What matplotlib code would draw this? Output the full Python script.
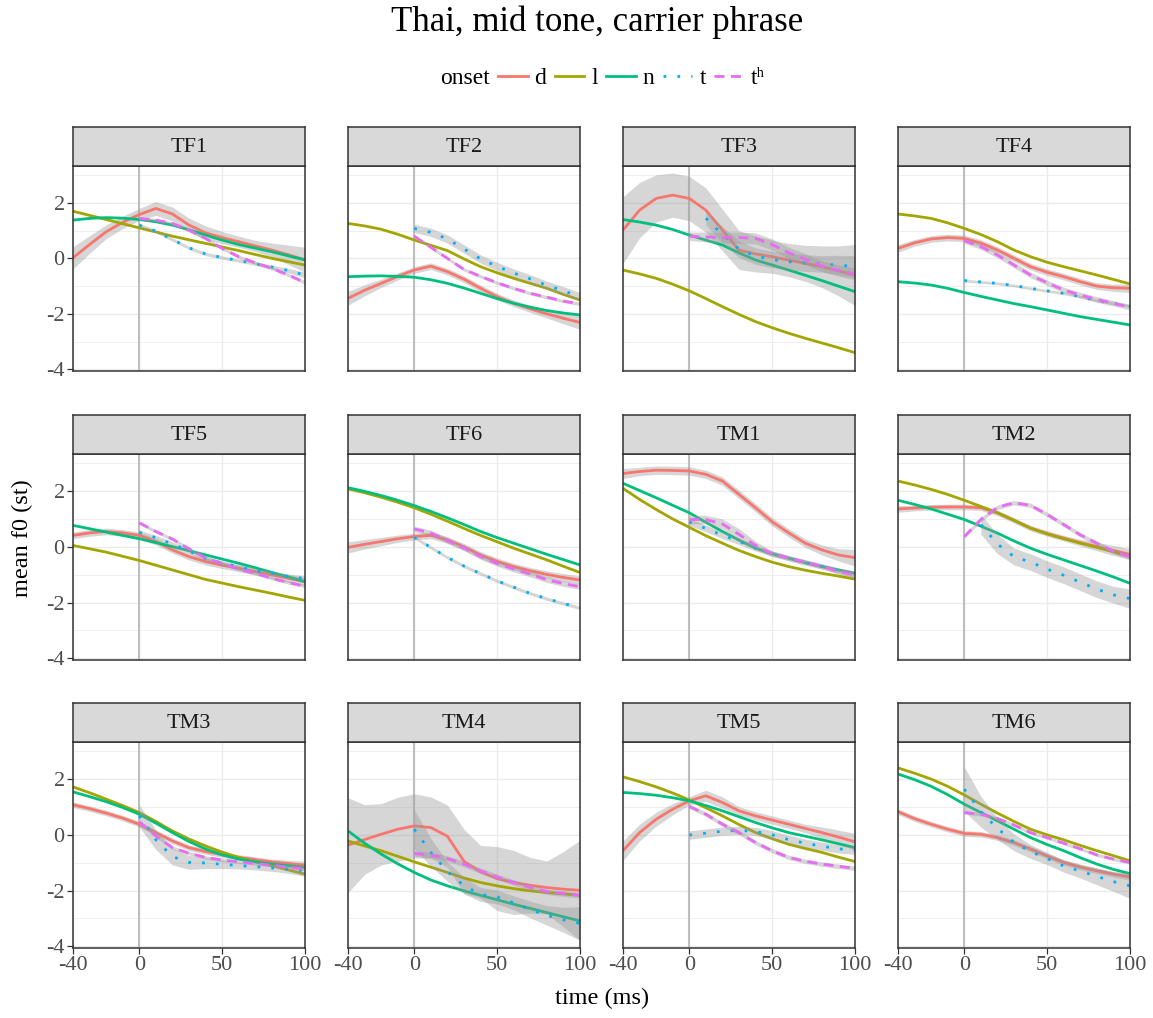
import numpy as np
import matplotlib
matplotlib.use("Agg")
import matplotlib.pyplot as plt
from matplotlib.lines import Line2D

plt.rcParams['font.family'] = ['Liberation Serif', 'DejaVu Serif']
plt.rcParams['axes.unicode_minus'] = False

# ---------------- data ----------------
X_ALL = [-40, -30, -20, -10, 0, 10, 20, 30, 40, 50, 60, 70, 80, 90, 100]
X_POST = [0, 10, 20, 30, 40, 50, 60, 70, 80, 90, 100]
NAN = float('nan')

PANELS = ["TF1", "TF2", "TF3", "TF4", "TF5", "TF6",
          "TM1", "TM2", "TM3", "TM4", "TM5", "TM6"]
ONSETS = ["d", "l", "n", "t", "tʰ"]
COLORS = ["#F8766D", "#A3A500", "#00BF7D", "#00B0F6", "#E76BF3"]

TF1 = {
    "d": [0.02, 0.5, 0.96, 1.3, 1.58, 1.8, 1.6, 1.2, 0.92, 0.75, 0.6, 0.45, 0.3, 0.13, -0.05],
    "l": [1.7, 1.55, 1.4, 1.25, 1.1, 0.95, 0.8, 0.67, 0.54, 0.41, 0.28, 0.14, 0.0, -0.12, -0.24],
    "n": [1.38, 1.44, 1.47, 1.45, 1.4, 1.32, 1.2, 1.03, 0.84, 0.66, 0.5, 0.37, 0.24, 0.09, -0.06],
    "t": [1.2, 0.98, 0.68, 0.38, 0.16, 0.03, -0.08, -0.19, -0.31, -0.44, -0.6],
    "tʰ": [1.44, 1.38, 1.26, 1.02, 0.72, 0.36, 0.06, -0.16, -0.36, -0.6, -0.87],
}
TF1_SE = {
    "d": [0.4, 0.32, 0.25, 0.22, 0.22, 0.25, 0.25, 0.25, 0.25, 0.22, 0.2, 0.2, 0.25, 0.35, 0.45],
    "t": [0.06, 0.06, 0.06, 0.06, 0.06, 0.06, 0.06, 0.06, 0.07, 0.08, 0.1],
    "tʰ": [0.06, 0.06, 0.06, 0.06, 0.06, 0.06, 0.06, 0.06, 0.06, 0.06, 0.07],
}
TF2 = {
    "d": [-1.44, -1.15, -0.9, -0.65, -0.42, -0.28, -0.48, -0.75, -1.08, -1.38, -1.62, -1.82, -2.0, -2.16, -2.31],
    "l": [1.26, 1.17, 1.05, 0.87, 0.66, 0.47, 0.28, -0.02, -0.3, -0.52, -0.72, -0.9, -1.08, -1.3, -1.5],
    "n": [-0.66, -0.64, -0.63, -0.65, -0.68, -0.77, -0.9, -1.07, -1.26, -1.45, -1.62, -1.76, -1.88, -1.97, -2.04],
    "t": [1.08, 0.94, 0.7, 0.34, -0.02, -0.29, -0.53, -0.74, -0.97, -1.17, -1.38],
    "tʰ": [0.8, 0.4, 0.0, -0.4, -0.65, -0.88, -1.08, -1.26, -1.4, -1.54, -1.64],
}
TF2_SE = {
    "d": [0.25, 0.2, 0.15, 0.13, 0.12, 0.12, 0.12, 0.12, 0.12, 0.12, 0.12, 0.13, 0.15, 0.2, 0.25],
    "t": [0.15, 0.15, 0.15, 0.15, 0.15, 0.15, 0.15, 0.15, 0.15, 0.15, 0.15],
    "tʰ": [0.06, 0.06, 0.06, 0.06, 0.06, 0.06, 0.06, 0.06, 0.06, 0.06, 0.06],
}
TF3 = {
    "d": [1.02, 1.74, 2.16, 2.28, 2.16, 1.74, 1.02, 0.3, 0.16, 0.06, -0.06, -0.18, -0.3, -0.45, -0.6],
    "l": [-0.42, -0.56, -0.72, -0.93, -1.17, -1.45, -1.74, -2.02, -2.28, -2.5, -2.7, -2.88, -3.05, -3.22, -3.4],
    "n": [1.4, 1.31, 1.2, 1.04, 0.84, 0.66, 0.48, 0.2, -0.06, -0.24, -0.42, -0.61, -0.8, -1.0, -1.2],
    "t": [NAN, 1.45, 0.85, 0.33, 0.08, -0.04, -0.12, -0.17, -0.2, -0.24, -0.3],
    "tʰ": [0.8, 0.77, 0.75, 0.75, 0.72, 0.5, 0.2, -0.03, -0.28, -0.44, -0.56],
}
TF3_SE = {
    "d": [1.2, 1.0, 0.85, 0.8, 0.8, 0.8, 0.75, 0.7, 0.65, 0.6, 0.6, 0.65, 0.75, 0.9, 1.1],
    "t": [NAN, 0.25, 0.3, 0.3, 0.3, 0.3, 0.3, 0.3, 0.3, 0.35, 0.4],
    "tʰ": [0.15, 0.18, 0.2, 0.2, 0.2, 0.2, 0.2, 0.2, 0.2, 0.2, 0.22],
}
TF4 = {
    "d": [0.36, 0.56, 0.7, 0.75, 0.72, 0.55, 0.3, 0.0, -0.3, -0.5, -0.66, -0.84, -1.0, -1.06, -1.08],
    "l": [1.6, 1.53, 1.44, 1.28, 1.08, 0.86, 0.6, 0.3, 0.06, -0.14, -0.3, -0.45, -0.6, -0.76, -0.92],
    "n": [-0.84, -0.89, -0.96, -1.08, -1.23, -1.37, -1.5, -1.63, -1.74, -1.86, -1.98, -2.1, -2.2, -2.3, -2.4],
    "t": [-0.8, -0.85, -0.9, -0.98, -1.08, -1.17, -1.26, -1.38, -1.52, -1.62, -1.72],
    "tʰ": [0.64, 0.42, 0.12, -0.24, -0.6, -0.88, -1.14, -1.32, -1.48, -1.62, -1.76],
}
TF4_SE = {
    "d": [0.14, 0.12, 0.12, 0.12, 0.12, 0.12, 0.12, 0.12, 0.12, 0.12, 0.12, 0.12, 0.12, 0.13, 0.15],
    "t": [0.05, 0.05, 0.05, 0.05, 0.05, 0.05, 0.05, 0.05, 0.05, 0.05, 0.05],
    "tʰ": [0.1, 0.1, 0.1, 0.1, 0.1, 0.1, 0.1, 0.1, 0.1, 0.1, 0.1],
}
TF5 = {
    "d": [0.41, 0.5, 0.55, 0.5, 0.41, 0.19, -0.11, -0.35, -0.53, -0.66, -0.77, -0.89, -1.01, -1.13, -1.25],
    "l": [0.05, -0.07, -0.19, -0.34, -0.49, -0.66, -0.83, -1.0, -1.17, -1.3, -1.43, -1.55, -1.67, -1.8, -1.92],
    "n": [0.77, 0.65, 0.53, 0.41, 0.29, 0.15, 0.01, -0.14, -0.29, -0.44, -0.59, -0.75, -0.92, -1.08, -1.25],
    "t": [0.52, 0.33, 0.1, -0.15, -0.42, -0.58, -0.72, -0.85, -0.95, -1.06, -1.14],
    "tʰ": [0.86, 0.55, 0.28, -0.07, -0.4, -0.6, -0.8, -0.95, -1.13, -1.28, -1.41],
}
TF5_SE = {
    "d": [0.12, 0.12, 0.12, 0.12, 0.12, 0.12, 0.12, 0.12, 0.12, 0.12, 0.12, 0.12, 0.13, 0.14, 0.15],
    "t": [0.08, 0.08, 0.08, 0.08, 0.08, 0.08, 0.08, 0.08, 0.08, 0.08, 0.1],
    "tʰ": [0.06, 0.06, 0.06, 0.06, 0.06, 0.06, 0.06, 0.06, 0.06, 0.06, 0.06],
}
TF6 = {
    "d": [-0.02, 0.09, 0.19, 0.29, 0.37, 0.41, 0.25, 0.0, -0.29, -0.52, -0.71, -0.86, -0.99, -1.1, -1.19],
    "l": [2.08, 1.94, 1.78, 1.6, 1.4, 1.17, 0.92, 0.66, 0.41, 0.18, -0.05, -0.26, -0.47, -0.7, -0.92],
    "n": [2.12, 1.99, 1.84, 1.67, 1.48, 1.27, 1.04, 0.8, 0.55, 0.33, 0.13, -0.07, -0.27, -0.46, -0.65],
    "t": [0.34, -0.02, -0.38, -0.69, -0.96, -1.22, -1.45, -1.67, -1.86, -2.03, -2.19],
    "tʰ": [0.64, 0.5, 0.22, -0.04, -0.35, -0.6, -0.8, -0.98, -1.18, -1.32, -1.43],
}
TF6_SE = {
    "d": [0.2, 0.17, 0.15, 0.13, 0.12, 0.12, 0.12, 0.12, 0.12, 0.12, 0.12, 0.12, 0.13, 0.14, 0.15],
    "t": [0.06, 0.06, 0.06, 0.06, 0.06, 0.06, 0.06, 0.06, 0.06, 0.06, 0.06],
    "tʰ": [0.1, 0.1, 0.1, 0.1, 0.1, 0.1, 0.1, 0.1, 0.1, 0.1, 0.1],
}
TM1 = {
    "d": [2.63, 2.7, 2.75, 2.74, 2.72, 2.6, 2.36, 1.88, 1.4, 0.9, 0.5, 0.13, -0.11, -0.29, -0.39],
    "l": [2.1, 1.7, 1.34, 1.0, 0.7, 0.4, 0.13, -0.13, -0.35, -0.55, -0.71, -0.84, -0.95, -1.05, -1.16],
    "n": [2.28, 2.02, 1.76, 1.49, 1.22, 0.88, 0.55, 0.24, -0.05, -0.25, -0.41, -0.57, -0.71, -0.83, -0.95],
    "t": [0.89, 0.66, 0.42, 0.2, -0.05, -0.24, -0.41, -0.56, -0.7, -0.85, -0.99],
    "tʰ": [0.98, 0.98, 0.82, 0.45, 0.05, -0.25, -0.4, -0.55, -0.7, -0.88, -1.0],
}
TM1_SE = {
    "d": [0.18, 0.15, 0.15, 0.15, 0.15, 0.15, 0.15, 0.15, 0.15, 0.15, 0.15, 0.15, 0.18, 0.22, 0.3],
    "t": [0.12, 0.12, 0.12, 0.12, 0.1, 0.1, 0.1, 0.1, 0.1, 0.1, 0.12],
    "tʰ": [0.15, 0.15, 0.18, 0.2, 0.15, 0.1, 0.08, 0.08, 0.08, 0.1, 0.12],
}
TM2 = {
    "d": [1.36, 1.39, 1.42, 1.43, 1.43, 1.4, 1.22, 0.95, 0.67, 0.48, 0.31, 0.15, 0.01, -0.13, -0.27],
    "l": [2.36, 2.22, 2.06, 1.88, 1.67, 1.45, 1.22, 0.95, 0.67, 0.46, 0.29, 0.13, -0.02, -0.18, -0.35],
    "n": [1.67, 1.52, 1.36, 1.17, 0.98, 0.74, 0.49, 0.21, -0.05, -0.27, -0.47, -0.67, -0.87, -1.08, -1.31],
    "t": [NAN, 0.8, 0.1, -0.35, -0.55, -0.8, -1.02, -1.27, -1.52, -1.72, -1.86],
    "tʰ": [0.37, 0.98, 1.42, 1.58, 1.49, 1.16, 0.8, 0.43, 0.13, -0.17, -0.35],
}
TM2_SE = {
    "d": [0.12, 0.1, 0.1, 0.1, 0.1, 0.1, 0.1, 0.1, 0.1, 0.1, 0.1, 0.12, 0.15, 0.18, 0.2],
    "t": [NAN, 0.35, 0.35, 0.3, 0.3, 0.3, 0.3, 0.3, 0.3, 0.3, 0.35],
    "tʰ": [0.08, 0.08, 0.08, 0.08, 0.08, 0.08, 0.08, 0.08, 0.08, 0.08, 0.1],
}
TM3 = {
    "d": [1.08, 0.94, 0.78, 0.6, 0.38, 0.08, -0.22, -0.46, -0.6, -0.71, -0.81, -0.89, -0.97, -1.03, -1.09],
    "l": [1.72, 1.51, 1.28, 1.05, 0.8, 0.48, 0.14, -0.15, -0.4, -0.62, -0.81, -0.97, -1.11, -1.26, -1.41],
    "n": [1.54, 1.37, 1.19, 0.98, 0.74, 0.42, 0.08, -0.24, -0.51, -0.72, -0.87, -0.97, -1.05, -1.11, -1.17],
    "t": [0.68, -0.18, -0.78, -0.99, -1.01, -1.06, -1.1, -1.14, -1.19, -1.23, -1.29],
    "tʰ": [0.47, -0.04, -0.46, -0.66, -0.81, -0.9, -0.97, -1.03, -1.09, -1.16, -1.23],
}
TM3_SE = {
    "d": [0.1, 0.1, 0.1, 0.1, 0.1, 0.1, 0.1, 0.1, 0.1, 0.1, 0.1, 0.1, 0.1, 0.12, 0.14],
    "t": [0.4, 0.35, 0.3, 0.25, 0.2, 0.15, 0.12, 0.12, 0.12, 0.15, 0.2],
    "tʰ": [0.06, 0.06, 0.06, 0.06, 0.06, 0.06, 0.06, 0.06, 0.06, 0.06, 0.06],
}
TM4 = {
    "d": [-0.37, -0.17, 0.02, 0.2, 0.32, 0.26, -0.05, -0.95, -1.33, -1.57, -1.71, -1.81, -1.89, -1.95, -1.99],
    "l": [-0.22, -0.4, -0.57, -0.77, -0.97, -1.16, -1.35, -1.55, -1.71, -1.83, -1.93, -2.01, -2.07, -2.12, -2.17],
    "n": [0.14, -0.3, -0.69, -1.04, -1.35, -1.62, -1.83, -2.01, -2.17, -2.33, -2.49, -2.64, -2.79, -2.94, -3.09],
    "t": [0.2, -0.63, -1.32, -1.82, -2.14, -2.23, -2.44, -2.68, -2.89, -3.05, -3.18],
    "tʰ": [-0.67, -0.73, -0.85, -1.05, -1.29, -1.51, -1.71, -1.89, -2.04, -2.11, -2.17],
}
TM4_SE = {
    "d": [1.7, 1.25, 1.1, 1.15, 1.15, 1.1, 1.12, 1.15, 0.95, 1.15, 1.15, 1.0, 0.95, 1.35, 1.8],
    "t": [0.7, 0.5, 0.35, 0.3, 0.25, 0.25, 0.25, 0.3, 0.35, 0.45, 0.6],
    "tʰ": [0.1, 0.1, 0.1, 0.1, 0.1, 0.1, 0.1, 0.1, 0.1, 0.1, 0.1],
}
TM5 = {
    "d": [-0.57, 0.08, 0.56, 0.92, 1.22, 1.4, 1.16, 0.86, 0.68, 0.53, 0.38, 0.23, 0.08, -0.08, -0.25],
    "l": [2.08, 1.91, 1.72, 1.5, 1.25, 0.97, 0.68, 0.37, 0.08, -0.14, -0.34, -0.49, -0.63, -0.8, -0.96],
    "n": [1.52, 1.48, 1.42, 1.33, 1.22, 1.05, 0.86, 0.65, 0.44, 0.25, 0.08, -0.05, -0.18, -0.32, -0.46],
    "t": [-0.01, 0.06, 0.13, 0.16, 0.12, 0.0, -0.17, -0.3, -0.41, -0.5, -0.55],
    "tʰ": [1.02, 0.74, 0.38, 0.08, -0.28, -0.57, -0.81, -0.95, -1.05, -1.13, -1.2],
}
TM5_SE = {
    "d": [0.35, 0.3, 0.25, 0.2, 0.15, 0.2, 0.2, 0.15, 0.15, 0.15, 0.15, 0.15, 0.2, 0.25, 0.3],
    "t": [0.15, 0.15, 0.15, 0.15, 0.15, 0.15, 0.15, 0.15, 0.15, 0.15, 0.15],
    "tʰ": [0.08, 0.08, 0.08, 0.08, 0.08, 0.08, 0.08, 0.08, 0.08, 0.08, 0.08],
}
TM6 = {
    "d": [0.83, 0.58, 0.38, 0.2, 0.05, 0.02, -0.1, -0.28, -0.51, -0.76, -0.99, -1.16, -1.29, -1.41, -1.51],
    "l": [2.4, 2.21, 2.0, 1.74, 1.43, 1.1, 0.78, 0.48, 0.2, 0.0, -0.18, -0.38, -0.57, -0.75, -0.93],
    "n": [2.18, 1.98, 1.74, 1.44, 1.1, 0.8, 0.5, 0.2, -0.1, -0.35, -0.57, -0.82, -1.05, -1.24, -1.39],
    "t": [1.64, 0.83, 0.23, -0.27, -0.6, -0.85, -1.12, -1.3, -1.49, -1.68, -1.83],
    "tʰ": [0.8, 0.74, 0.59, 0.35, 0.08, -0.1, -0.3, -0.5, -0.72, -0.87, -0.99],
}
TM6_SE = {
    "d": [0.1, 0.1, 0.1, 0.1, 0.1, 0.1, 0.1, 0.1, 0.1, 0.1, 0.1, 0.1, 0.1, 0.1, 0.12],
    "t": [0.8, 0.55, 0.4, 0.3, 0.25, 0.22, 0.22, 0.25, 0.3, 0.35, 0.45],
    "tʰ": [0.06, 0.06, 0.06, 0.06, 0.06, 0.06, 0.06, 0.06, 0.06, 0.06, 0.06],
}

DATA = [TF1, TF2, TF3, TF4, TF5, TF6, TM1, TM2, TM3, TM4, TM5, TM6]
SES = [TF1_SE, TF2_SE, TF3_SE, TF4_SE, TF5_SE, TF6_SE,
       TM1_SE, TM2_SE, TM3_SE, TM4_SE, TM5_SE, TM6_SE]

Y_TICKS = [-4, -2, 0, 2]
Y_MINOR = [-3, -1, 1, 3]
X_TICKS = [-40, 0, 50, 100]
X_TICKLABELS = ["-40", "0", "50", "100"]

# ---------------- styles ----------------
LW = 2.0
STYLES = {
    "d": dict(ls="-"),
    "l": dict(ls="-"),
    "n": dict(ls="-"),
    "t": dict(ls=(0, (1, 4.0))),
    "tʰ": dict(ls=(0, (3.6, 2.3))),
}

W, H = 1153, 1018
fig = plt.figure(figsize=(W / 100, H / 100), dpi=100)
fig.patch.set_facecolor("white")

cols_px = [(73, 305), (348, 580), (623, 855), (898, 1130)]
rows_px = [(127, 166, 371), (415, 454, 660), (703, 742, 948)]

TXT = "#4d4d4d"
EDGE = "#333333"
TICK_FS = 16
STRIP_FS = 16

for i, name in enumerate(PANELS):
    r, c = divmod(i, 4)
    x0, x1 = cols_px[c]
    ys, yt, yb = rows_px[r]
    ax = fig.add_axes([x0 / W, 1 - yb / H, (x1 - x0) / W, (yb - yt) / H])
    ax.set_xlim(-40, 100)
    ax.set_ylim(-4.06, 3.33)
    ax.set_yticks(Y_TICKS)
    ax.set_yticks(Y_MINOR, minor=True)
    ax.set_xticks(X_TICKS)
    ax.set_xticklabels(X_TICKLABELS)
    ax.grid(which="major", color="#ebebeb", lw=1.0, zorder=0)
    ax.grid(which="minor", axis="y", color="#ebebeb", lw=0.6, zorder=0)
    ax.set_axisbelow(True)
    ax.tick_params(which="minor", length=0)
    ax.tick_params(which="major", length=4, width=0.9, color=EDGE,
                   labelcolor=TXT, labelsize=TICK_FS, pad=2)
    if c != 0:
        ax.tick_params(axis="y", left=False, labelleft=False)
    if r != 2:
        ax.tick_params(axis="x", bottom=False, labelbottom=False)
    for sp in ax.spines.values():
        sp.set_color(EDGE)
        sp.set_linewidth(1.1)
        sp.set_zorder(10)

    ax.axvline(0, color="#bebebe", lw=1.5, zorder=1)

    d = DATA[i]
    se = SES[i]
    for k, on in enumerate(ONSETS):
        xs = np.array(X_ALL if on in ("d", "l", "n") else X_POST, dtype=float)
        ys_ = np.array(d[on], dtype=float)
        m = np.isfinite(ys_)
        if on in se:
            s = np.array(se[on], dtype=float)
            mm = m & np.isfinite(s)
            ax.fill_between(xs[mm], ys_[mm] - s[mm], ys_[mm] + s[mm],
                            color="#999999", alpha=0.4, lw=0, zorder=2 + k)
        ax.plot(xs[m], ys_[m], color=COLORS[k], lw=LW, zorder=2.5 + k,
                solid_capstyle="butt", solid_joinstyle="round", **STYLES[on])

    # strip
    sax = fig.add_axes([x0 / W, 1 - yt / H, (x1 - x0) / W, (yt - ys) / H])
    sax.set_facecolor("#d9d9d9")
    sax.set_xticks([])
    sax.set_yticks([])
    for sp in sax.spines.values():
        sp.set_color(EDGE)
        sp.set_linewidth(1.1)
    sax.text(0.5, 0.48, name, ha="center", va="center", fontsize=STRIP_FS,
             color="#1a1a1a", transform=sax.transAxes)

# title, axis labels
fig.text(597 / W, 1 - 22 / H, "Thai, mid tone, carrier phrase", ha="center",
         va="center", fontsize=25, color="black")
fig.text(602 / W, 1 - 998 / H, "time (ms)", ha="center", va="center",
         fontsize=17.5, color="black")
fig.text(22 / W, 1 - 538 / H, "mean f0 (st)", ha="center", va="center",
         fontsize=17.5, rotation=90, color="black")

# legend
handles = [Line2D([0], [0], color=COLORS[k], lw=LW, **STYLES[on])
           for k, on in enumerate(ONSETS)]
fig.text(490 / W, 1 - 78 / H, "onset", ha="right", va="center",
         fontsize=17, color="black")
leg = fig.legend(handles, ONSETS, loc="center left",
                 bbox_to_anchor=(498 / W, 1 - 78 / H), ncol=5, frameon=False,
                 fontsize=17, handlelength=1.25, handletextpad=0.3,
                 columnspacing=0.35, borderaxespad=0, borderpad=0)

fig.savefig("out.png", dpi=100, facecolor="white")
